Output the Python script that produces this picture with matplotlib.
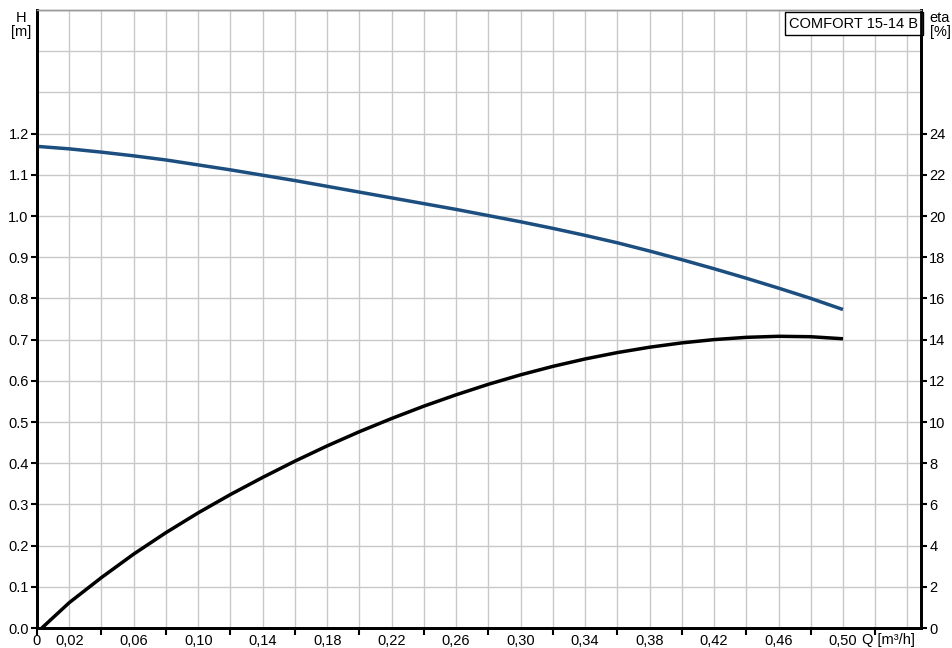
import numpy as np
import matplotlib.pyplot as plt
from matplotlib.ticker import FixedLocator

plt.rcParams["font.family"] = ["Liberation Sans", "DejaVu Sans"]

# Pump head curve (left axis, m) and efficiency (right axis, %)
q_head = [0.0, 0.02, 0.04, 0.06, 0.08, 0.10, 0.12, 0.14, 0.16, 0.18, 0.20, 0.22,
          0.24, 0.26, 0.28, 0.30, 0.32, 0.34, 0.36, 0.38, 0.40, 0.42, 0.44, 0.46,
          0.48, 0.50]
head = [1.169, 1.163, 1.155, 1.146, 1.136, 1.124, 1.112, 1.099, 1.086, 1.072, 1.058,
        1.044, 1.030, 1.016, 1.001, 0.986, 0.970, 0.953, 0.935, 0.915, 0.894, 0.872,
        0.849, 0.825, 0.800, 0.773]

q_eta = [0.003, 0.02, 0.04, 0.06, 0.08, 0.10, 0.12, 0.14, 0.16, 0.18, 0.20, 0.22,
         0.24, 0.26, 0.28, 0.30, 0.32, 0.34, 0.36, 0.38, 0.40, 0.42, 0.44, 0.46,
         0.48, 0.50]
eta = [0.0, 1.23, 2.45, 3.59, 4.63, 5.59, 6.48, 7.31, 8.10, 8.84, 9.53, 10.17,
       10.77, 11.32, 11.83, 12.29, 12.70, 13.06, 13.37, 13.63, 13.84, 14.00, 14.11,
       14.16, 14.14, 14.04]

x_labels = ["0", "0,02", "0,06", "0,10", "0,14", "0,18", "0,22", "0,26", "0,30",
            "0,34", "0,38", "0,42", "0,46", "0,50"]
x_label_pos = [0.0] + [0.02 + 0.04 * i for i in range(13)]
h_ticks = [round(0.1 * i, 1) for i in range(13)]
eta_ticks = list(range(0, 26, 2))

fig = plt.figure(figsize=(9.53, 6.48), dpi=100)
ax = fig.add_axes([37 / 953, 20 / 648, 884 / 953, 618 / 648])
ax2 = ax.twinx()

ax.set_xlim(0, 0.5484)
ax.set_ylim(0, 1.5)
ax2.set_ylim(0, 30)

# grid
grid_color = "#c8c8c8"
for gx in np.arange(0.02, 0.547, 0.02):
    ax.axvline(gx, color=grid_color, lw=1, zorder=0)
for gy in np.arange(0.1, 1.55, 0.1):
    ax.axhline(gy, color=grid_color, lw=1, zorder=0)

ax.plot(q_head, head, color="#1c4e80", lw=2.5, zorder=3, solid_capstyle="butt")
ax2.plot(q_eta, eta, color="black", lw=2.5, zorder=3, solid_capstyle="butt")

# x ticks: marks every 0.04, labels at 0,02 + 0,04k
ax.xaxis.remove_overlapping_locs = False
ax.xaxis.set_major_locator(FixedLocator([0.04 * i for i in range(14)]))
ax.set_xticklabels([""] * 14)
ax.xaxis.set_minor_locator(FixedLocator(x_label_pos))
ax.set_xticklabels(x_labels, minor=True)
ax.tick_params(axis="x", which="major", direction="out", length=5, width=1.5)
ax.tick_params(axis="x", which="minor", length=0, pad=4, labelsize=10.5)

ax.set_yticks(h_ticks)
ax.set_yticklabels([f"{v:.1f}" for v in h_ticks])
ax.tick_params(axis="y", direction="out", length=4, width=1.5, labelsize=10.5, pad=2)

ax2.set_yticks(eta_ticks)
ax2.tick_params(axis="y", direction="out", length=4, width=1.5, labelsize=10.5, pad=2)

for a in (ax, ax2):
    for side in ("left", "right", "bottom"):
        a.spines[side].set_linewidth(2)
        a.spines[side].set_color("black")
    a.spines["top"].set_linewidth(1)
    a.spines["top"].set_color("#9a9a9a")

ax.text(0.512, -0.008, "Q [m³/h]", transform=ax.get_xaxis_transform(),
        ha="left", va="top", fontsize=10.5)

fig.text(21 / 953, 1 - 11 / 648, "H\n[m]", ha="center", va="top", fontsize=10.5,
         linespacing=1.0)
fig.text(940 / 953, 1 - 11 / 648, "eta\n[%]", ha="center", va="top", fontsize=10.5,
         linespacing=1.0)

ax.text(0.997, 0.989, "COMFORT 15-14 B", transform=ax.transAxes, ha="right", va="top",
        fontsize=10.5, zorder=5,
        bbox=dict(boxstyle="square,pad=0.3", facecolor="white", edgecolor="black", lw=1))

fig.savefig("out.png", dpi=100)
